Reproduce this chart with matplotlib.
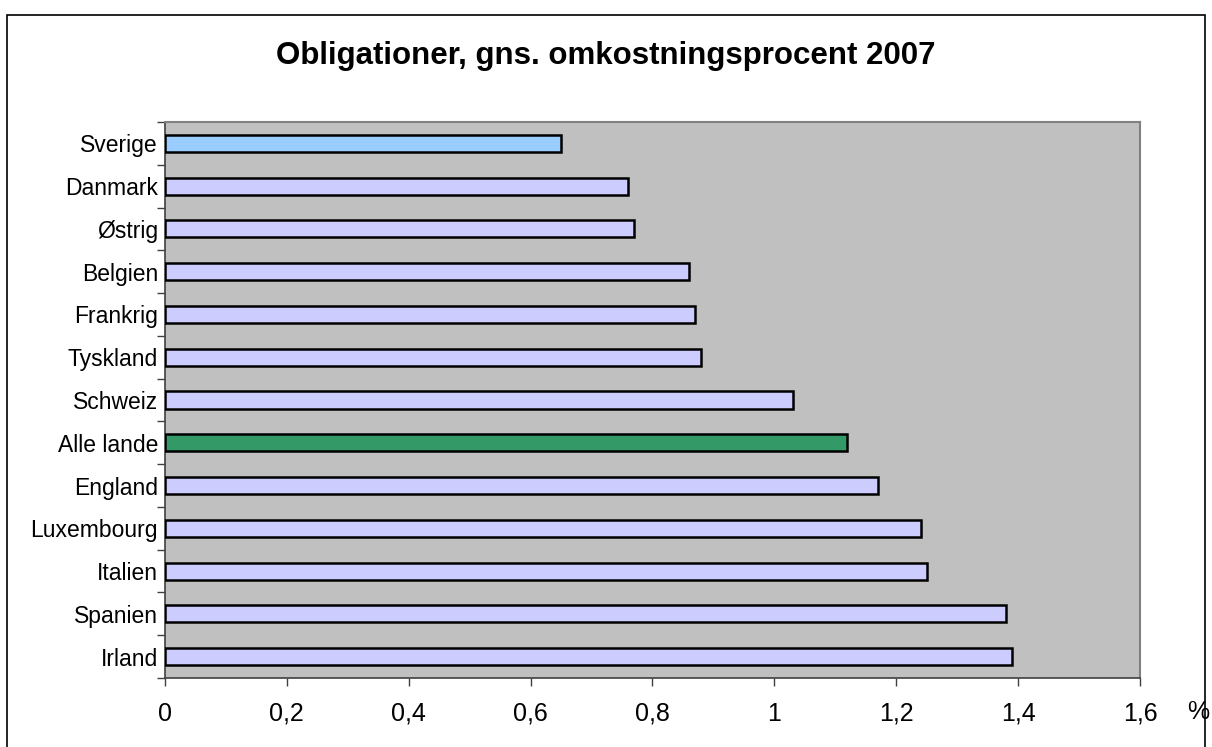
import numpy as np
import matplotlib.pyplot as plt
import matplotlib.patches as patches

plt.rcParams['font.family'] = ['Liberation Sans', 'DejaVu Sans']

countries = ['Sverige', 'Danmark', 'Østrig', 'Belgien', 'Frankrig', 'Tyskland', 'Schweiz',
             'Alle lande', 'England', 'Luxembourg', 'Italien', 'Spanien', 'Irland']
values = [0.65, 0.76, 0.77, 0.86, 0.87, 0.88, 1.03, 1.12, 1.17, 1.24, 1.25, 1.38, 1.39]
xticks = [0, 0.2, 0.4, 0.6, 0.8, 1.0, 1.2, 1.4, 1.6]
xlabels = ['0', '0,2', '0,4', '0,6', '0,8', '1', '1,2', '1,4', '1,6']

colors = ['#CCCCFF'] * len(countries)
colors[0] = '#99CCFF'
colors[countries.index('Alle lande')] = '#339966'

fig = plt.figure(figsize=(12.12, 7.47), dpi=100)
ax = fig.add_axes([0.1361, 0.0924, 0.8045, 0.7443])
ax.set_facecolor('#C0C0C0')

y = np.arange(len(countries))
ax.barh(y, values, height=0.4, color=colors, edgecolor='black', linewidth=1.8, zorder=3)

ax.set_xlim(0, 1.6)
ax.set_ylim(len(countries) - 0.5, -0.5)

# category boundaries get tick marks, labels sit at the centres
ax.set_yticks(np.arange(-0.5, len(countries), 1))
ax.set_yticklabels([])
ax.set_yticks(y, minor=True)
ax.set_yticklabels(countries, minor=True, fontsize=16.5)
ax.tick_params(axis='y', which='major', length=6, width=1, color='#404040', direction='out')
ax.tick_params(axis='y', which='minor', length=0, pad=5)

ax.set_xticks(xticks)
ax.set_xticklabels(xlabels, fontsize=18)
ax.tick_params(axis='x', length=6, width=1, color='#404040', direction='out', pad=11)

for side in ['top', 'right']:
    ax.spines[side].set_color('#808080')
    ax.spines[side].set_linewidth(1.5)
for side in ['left', 'bottom']:
    ax.spines[side].set_color('#404040')
    ax.spines[side].set_linewidth(1.2)

fig.text(0.5, 0.925, 'Obligationer, gns. omkostningsprocent 2007', ha='center', va='center',
         fontsize=22.5, fontweight='bold')
fig.text(0.9885, 0.047, '%', ha='center', va='center', fontsize=18)

# outer chart frame, bottom edge runs off the image
frame = patches.Rectangle((7 / 1212, -0.05), 1198 / 1212, 1.05 - 15 / 747, transform=fig.transFigure,
                          fill=False, edgecolor='black', linewidth=1.2)
fig.add_artist(frame)

fig.savefig('out.png', dpi=100)
